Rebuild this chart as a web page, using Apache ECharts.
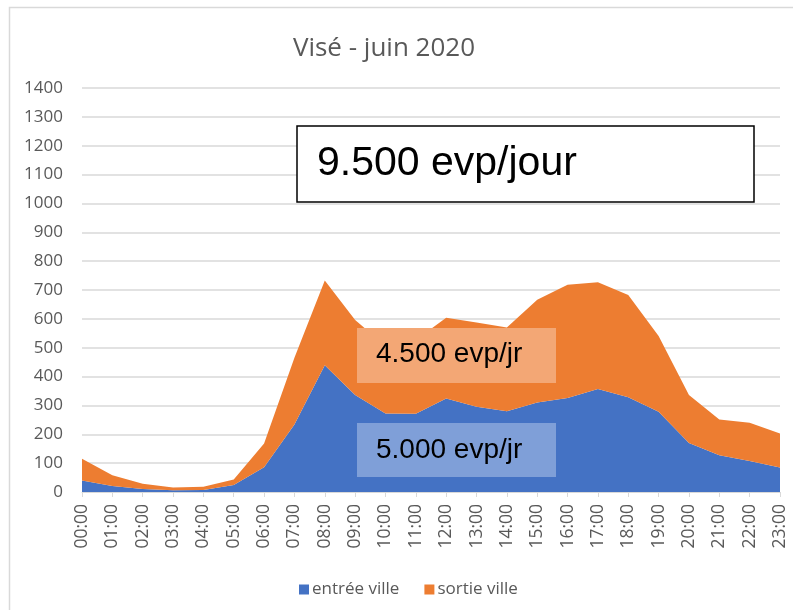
<!DOCTYPE html>
<html>
<head>
<meta charset="utf-8">
<script src="https://cdn.jsdelivr.net/npm/echarts@6/dist/echarts.min.js"></script>
<style>
html,body{margin:0;padding:0;background:#fff;}
#chart{width:793px;height:610px;}
</style>
</head>
<body>
<div id="chart"></div>
<script>
var hours = ['00:00','01:00','02:00','03:00','04:00','05:00','06:00','07:00','08:00','09:00','10:00','11:00',
             '12:00','13:00','14:00','15:00','16:00','17:00','18:00','19:00','20:00','21:00','22:00','23:00'];
var entreeVille = [40,21,10,6,7,24,86,234,439,336,272,271,324,295,280,310,326,357,328,278,170,127,107,85];
var sortieVille = [75,37,19,10,11,19,82,231,294,260,235,256,280,292,290,356,392,370,355,263,166,124,133,118];
var seriesNames = ['entrée ville','sortie ville'];
var titleText = 'Visé - juin 2020';
var totalLabel = '9.500 evp/jour';
var sortieLabel = '4.500 evp/jr';
var entreeLabel = '5.000 evp/jr';

var chart = echarts.init(document.getElementById('chart'));
var gray = '#595959';
var font = '"Open Sans", sans-serif';
chart.setOption({
  animation: false,
  textStyle: {fontFamily: font},
  title: {
    text: titleText, left: 379, top: 31, textAlign: 'center',
    textStyle: {fontFamily: font, fontSize: 26, fontWeight: 'normal', color: gray}
  },
  grid: {left: 82, right: 13, top: 88, bottom: 118, containLabel: false},
  legend: {
    left: 294, top: 576, itemWidth: 10, itemHeight: 10, itemGap: 25, icon: 'rect',
    textStyle: {fontFamily: font, fontSize: 17, color: gray, padding: [0,0,0,-2]},
    data: seriesNames
  },
  xAxis: {
    type: 'category', data: hours, boundaryGap: false,
    axisLine: {lineStyle: {color: '#d9d9d9', width: 1}},
    axisTick: {show: true, length: 5, lineStyle: {color: '#d9d9d9'}},
    axisLabel: {rotate: 90, margin: 12, fontFamily: font, fontSize: 17.5, color: gray, interval: 0}
  },
  yAxis: {
    type: 'value', min: 0, max: 1400, interval: 100,
    axisLine: {show: false}, axisTick: {show: false},
    axisLabel: {margin: 19, fontFamily: font, fontSize: 17, color: gray,
                formatter: function (v) { return String(v); }},
    splitLine: {lineStyle: {color: '#d9d9d9', width: 1.5}}
  },
  series: [
    {name: seriesNames[0], type: 'line', stack: 'total', data: entreeVille, symbol: 'none',
     lineStyle: {width: 0}, itemStyle: {color: '#4472C4'}, areaStyle: {color: '#4472C4', opacity: 1}},
    {name: seriesNames[1], type: 'line', stack: 'total', data: sortieVille, symbol: 'none',
     lineStyle: {width: 0}, itemStyle: {color: '#ED7D31'}, areaStyle: {color: '#ED7D31', opacity: 1}}
  ],
  graphic: [
    {type: 'rect', z: 1, shape: {x: 9.5, y: 7.5, width: 800, height: 620},
     style: {fill: 'none', stroke: '#d9d9d9', lineWidth: 1.5}, silent: true},
    {type: 'rect', z: 100, shape: {x: 297, y: 126, width: 457, height: 76},
     style: {fill: '#fff', stroke: '#000', lineWidth: 1.5}},
    {type: 'text', z: 101, left: 317, top: 143,
     style: {text: totalLabel, font: '41px "Liberation Sans", Arial, sans-serif', fill: '#000'}},
    {type: 'rect', z: 100, shape: {x: 357, y: 328, width: 199, height: 55},
     style: {fill: '#F3A775'}},
    {type: 'text', z: 101, left: 376, top: 340,
     style: {text: sortieLabel, font: '28px "Liberation Sans", Arial, sans-serif', fill: '#000'}},
    {type: 'rect', z: 100, shape: {x: 357, y: 423, width: 199, height: 54},
     style: {fill: '#7F9FD8'}},
    {type: 'text', z: 101, left: 376, top: 436,
     style: {text: entreeLabel, font: '28px "Liberation Sans", Arial, sans-serif', fill: '#000'}}
  ]
});
</script>
</body>
</html>
